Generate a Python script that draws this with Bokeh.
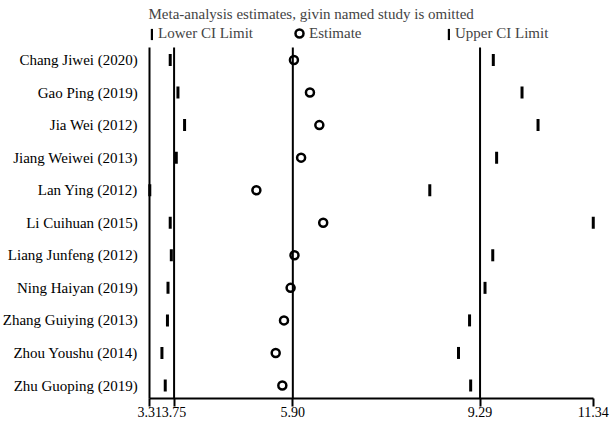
import numpy as np
from bokeh.plotting import figure
from bokeh.models import (Range1d, FixedTicker, NumeralTickFormatter, Legend,
                          LegendItem, Label, ColumnDataSource)
from bokeh.embed import file_html
from bokeh.resources import INLINE

studies = ["Chang Jiwei (2020)", "Gao Ping (2019)", "Jia Wei (2012)", "Jiang Weiwei (2013)",
           "Lan Ying (2012)", "Li Cuihuan (2015)", "Liang Junfeng (2012)", "Ning Haiyan (2019)",
           "Zhang Guiying (2013)", "Zhou Youshu (2014)", "Zhu Guoping (2019)"]
lower = [3.68, 3.82, 3.94, 3.79, 3.31, 3.68, 3.70, 3.64, 3.63, 3.53, 3.59]
estimate = [5.92, 6.21, 6.38, 6.05, 5.24, 6.45, 5.93, 5.86, 5.74, 5.59, 5.71]
upper = [9.53, 10.05, 10.34, 9.59, 8.38, 11.34, 9.52, 9.38, 9.10, 8.90, 9.12]
overall = [3.75, 5.90, 9.29]          # overall lower CI, estimate, upper CI
axis_ticks = [3.31, 3.75, 5.90, 9.29, 11.34]
title_text = "Meta-analysis estimates, givin named study is omitted"
legend_labels = ["Lower CI Limit", "Estimate", "Upper CI Limit"]

SERIF = "Liberation Serif"
rows = list(range(len(studies)))
x_lo, x_hi = min(axis_ticks), max(axis_ticks)
row_top, row_bottom = -0.384, 10.40      # vertical extent of the plotting box (row units)

src = ColumnDataSource(dict(row=rows, lower=lower, est=estimate, upper=upper))
ref_src = ColumnDataSource(dict(x=overall, y0=[row_top] * len(overall),
                                y1=[row_bottom] * len(overall)))

W, H = 610, 424
p = figure(width=W, height=H, output_backend="svg", toolbar_location=None,
           x_range=Range1d(0.607, 11.652), y_range=Range1d(11.198, -1.828),
           min_border=0)
p.outline_line_color = None
p.grid.visible = False
p.title.visible = False

# reference lines for the pooled estimate and its CI
p.segment("x", "y0", "x", "y1", source=ref_src, line_color="black", line_width=2)

BAR = dict(width=3, height=12, width_units="screen", height_units="screen",
           fill_color="black", line_color=None)
bar_lo = p.rect("lower", "row", source=src, **BAR)
bar_hi = p.rect("upper", "row", source=src, **BAR)
circ = p.scatter("est", "row", source=src, marker="circle", size=8, line_width=2.5,
                 line_color="black", fill_color=None)

xa = p.xaxis[0]
xa.fixed_location = row_bottom
xa.bounds = (x_lo, x_hi)
xa.ticker = FixedTicker(ticks=axis_ticks)
xa.formatter = NumeralTickFormatter(format="0.00")
xa.axis_line_width = 2
xa.major_tick_line_width = 2
xa.major_tick_out = 8
xa.major_tick_in = 0
xa.minor_tick_line_color = None
xa.major_label_standoff = 0
xa.major_label_text_font = SERIF
xa.major_label_text_font_size = "14px"
xa.major_label_text_color = "black"

ya = p.yaxis[0]
ya.fixed_location = x_lo
ya.bounds = (row_top, row_bottom)
ya.ticker = FixedTicker(ticks=rows)
ya.major_label_overrides = {i: s for i, s in zip(rows, studies)}
ya.axis_line_width = 2
ya.major_tick_line_color = None
ya.minor_tick_line_color = None
ya.major_label_standoff = 6
ya.major_label_text_font = SERIF
ya.major_label_text_font_size = "15px"
ya.major_label_text_color = "black"

# header: title and key
def mk_legend(renderer, label, loc, gw, gh, standoff):
    lg = Legend(items=[LegendItem(label=label, renderers=[renderer], index=0)], location=loc,
                orientation="horizontal", glyph_width=gw, glyph_height=gh,
                label_standoff=standoff, label_height=14, padding=0, margin=0, spacing=0,
                border_line_color=None, background_fill_alpha=0,
                label_text_font=SERIF, label_text_font_size="15px")
    p.add_layout(lg, "center")

mk_legend(bar_lo, legend_labels[0], (150, 382), 3, 14, 5)
mk_legend(circ, legend_labels[1], (289, 381), 20, 20, 0)
mk_legend(bar_hi, legend_labels[2], (447, 382), 3, 14, 5)

p.add_layout(Label(x=148, y=410.7, x_units="screen", y_units="screen", text=title_text,
                   text_font=SERIF, text_font_size="15px", text_baseline="middle"))

open("out.html", "w").write(file_html(p, INLINE))
